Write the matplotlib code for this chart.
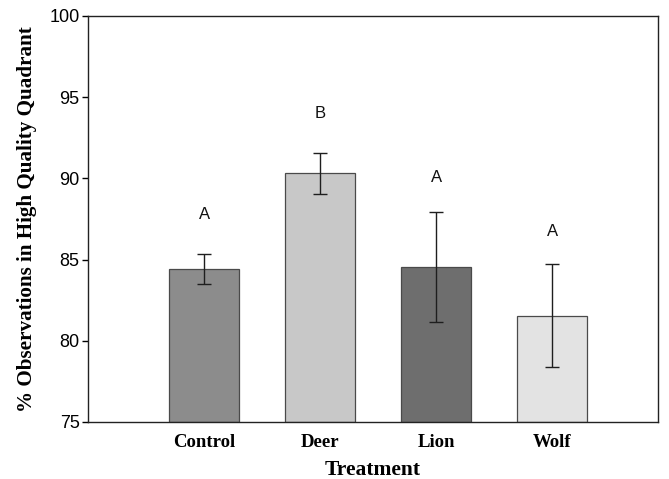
import matplotlib
matplotlib.use("Agg")
import matplotlib.pyplot as plt

# values
treatments = ["Control", "Deer", "Lion", "Wolf"]
means = [84.42, 90.31, 84.53, 81.55]
errors = [0.9, 1.27, 3.4, 3.15]
letters = ["A", "B", "A", "A"]
letter_y = [87.75, 93.97, 90.07, 86.72]
bar_colors = ["#8c8c8c", "#c8c8c8", "#6e6e6e", "#e3e3e3"]
yticks = [75, 80, 85, 90, 95, 100]


def plot_bars():
    fig = plt.figure(figsize=(6.69, 4.79), dpi=100)
    ax = fig.add_axes([0.1315, 0.119, 0.852, 0.8476])
    xpos = list(range(1, len(treatments) + 1))
    ax.bar(xpos, [m - 75 for m in means], bottom=75, width=0.6,
           color=bar_colors, edgecolor="#4a4a4a", linewidth=0.9, zorder=2)
    ax.errorbar(xpos, means, yerr=errors, fmt="none", ecolor="#1e1e1e",
                elinewidth=1.0, capsize=5, capthick=1.0, zorder=3)
    for x, lab, y in zip(xpos, letters, letter_y):
        ax.text(x, y, lab, ha="center", va="center", fontsize=12,
                family="Liberation Sans", color="#111111")

    ax.set_xlim(0, 4.91)
    ax.set_ylim(75, 100)
    ax.set_yticks(yticks)
    ax.set_yticklabels([str(t) for t in yticks], family="Liberation Sans", fontsize=13)
    ax.set_xticks(xpos)
    ax.set_xticklabels(treatments, family="Liberation Serif", fontweight="bold", fontsize=13.5)
    ax.tick_params(axis="x", length=0, pad=9)
    ax.tick_params(axis="y", length=4, width=1, direction="out", pad=2)
    for s in ax.spines.values():
        s.set_linewidth(1.0)
        s.set_color("#222222")

    ax.set_xlabel("Treatment", family="Liberation Serif", fontweight="bold", fontsize=15.5, labelpad=6)
    ax.set_ylabel("% Observations in High Quality Quadrant", family="Liberation Serif",
                  fontweight="bold", fontsize=15.2, labelpad=9)
    fig.savefig("out.png", dpi=100)


if __name__ == "__main__":
    plot_bars()
